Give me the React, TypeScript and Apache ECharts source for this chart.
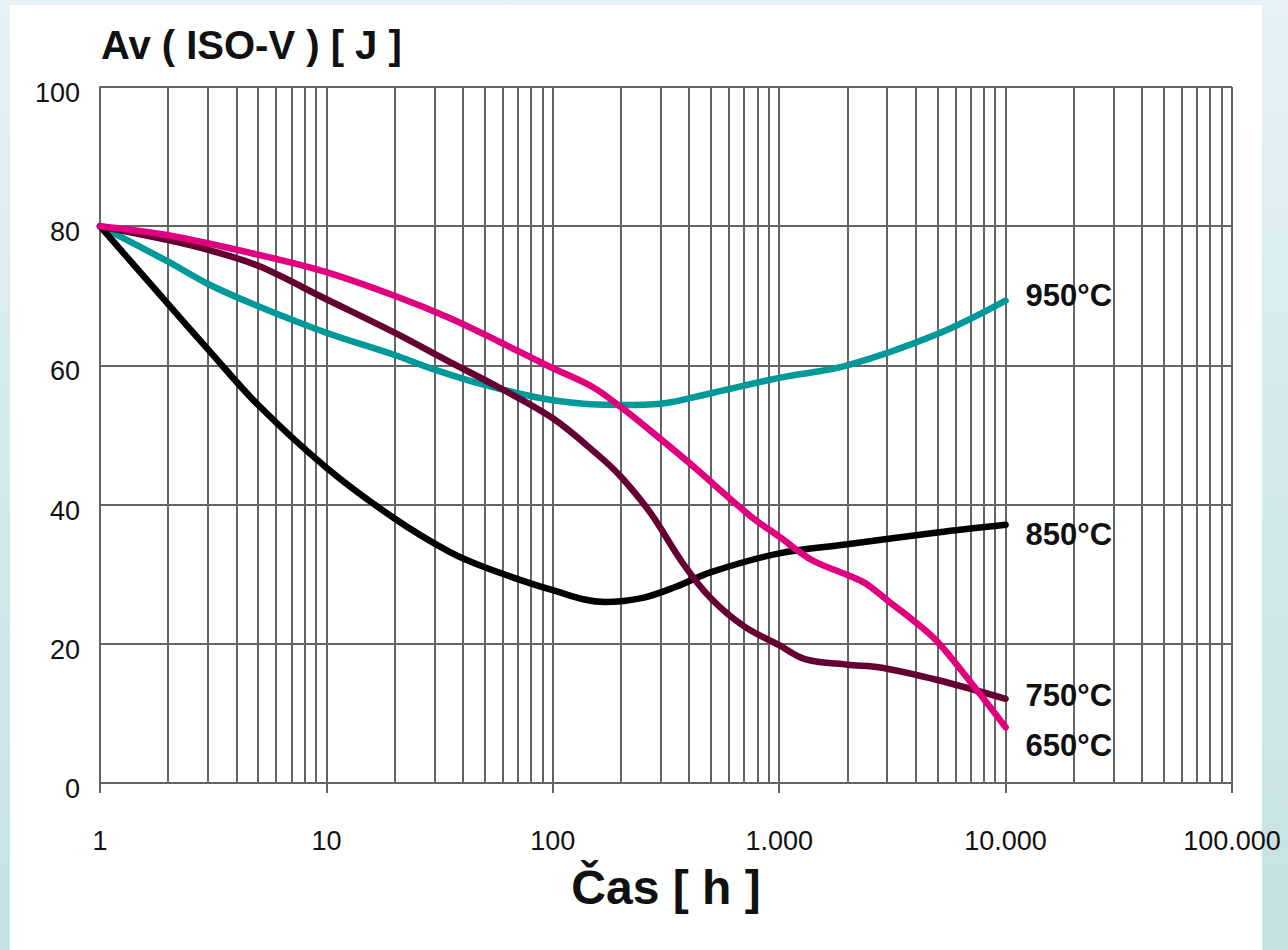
import React, { useEffect, useRef } from "react";
import * as echarts from "echarts";

const xTickLabels = ["1", "10", "100", "1.000", "10.000", "100.000"];
const minorGridX = [
  2, 3, 4, 5, 6, 7, 8, 9,
  20, 30, 40, 50, 60, 70, 80, 90,
  200, 300, 400, 500, 600, 700, 800, 900,
  2000, 3000, 4000, 5000, 6000, 7000, 8000, 9000,
  20000, 30000, 40000, 50000, 60000, 70000, 80000, 90000,
];

const t950 = [1, 2, 3, 5, 10, 20, 30, 50, 100, 200, 300, 500, 1000, 2000, 5000, 10000];
const v950 = [80, 74.9, 71.7, 68.5, 64.7, 61.5, 59.4, 57.2, 55, 54.3, 54.5, 56, 58.2, 60, 64.5, 69.3];

const t850 = [1, 2, 3, 5, 10, 20, 35, 50, 100, 170, 250, 350, 500, 1000, 2000, 5000, 10000];
const v850 = [80, 68.8, 62.3, 54.3, 45.3, 38, 33.2, 31, 27.7, 26, 26.6, 28.2, 30.3, 33, 34.3, 36, 37.1];

const t750 = [1, 2, 3, 5, 10, 20, 35, 58, 100, 160, 200, 270, 375, 500, 700, 1000, 1300, 2000, 2800, 5000, 10000];
const v750 = [80, 78, 76.6, 74.3, 69.5, 64.7, 60.5, 56.8, 52.4, 47, 44, 38.8, 31.6, 26.5, 22.5, 19.8, 17.8, 17, 16.6, 14.8, 12.1];

const t650 = [1, 2, 5, 10, 20, 35, 58, 97, 150, 198, 268, 400, 750, 1000, 1400, 2000, 2400, 3100, 3900, 5000, 7000, 10000];
const v650 = [80, 78.7, 75.9, 73.4, 70, 66.8, 63.4, 59.8, 56.9, 54.1, 50.7, 46, 38.3, 35.4, 32, 29.9, 28.7, 25.9, 23.4, 20.3, 14.5, 8];

const seriesNames = ["950°C", "850°C", "750°C", "650°C"];
const seriesColors = ["#009999", "#000000", "#660033", "#e0007f"];

const GRID = "#646464";
const FONT = "Liberation Sans, Arial, sans-serif";

function zip(t: number[], v: number[]) {
  return t.map((x, i) => [x, v[i]]);
}

function fmt(v: number) {
  const idx = Math.round(Math.log10(v));
  if (Math.abs(Math.log10(v) - idx) < 1e-6 && idx >= 0 && idx < xTickLabels.length) {
    return xTickLabels[idx];
  }
  return "";
}

export default function App() {
  const ref = useRef<HTMLDivElement>(null);
  useEffect(() => {
    if (!ref.current) return;
    const chart = echarts.init(ref.current, null, { renderer: "svg" });
    const data = [zip(t950, v950), zip(t850, v850), zip(t750, v750), zip(t650, v650)];
    const offsets = [
      [20, -5],
      [20, 10],
      [20, -3],
      [20, 18],
    ];
    chart.setOption({
      animation: false,
      textStyle: { fontFamily: FONT },
      title: {
        text: "Av ( ISO-V ) [ J ]",
        left: 101,
        top: 25,
        padding: 0,
        textStyle: { fontSize: 40, fontWeight: "bold", color: "#111", fontFamily: FONT },
      },
      grid: { left: 100, right: 56, top: 87, bottom: 167, containLabel: false },
      xAxis: {
        type: "log",
        logBase: 10,
        min: 1,
        max: 100000,
        name: "Čas [ h ]",
        nameLocation: "middle",
        nameGap: 80,
        nameTextStyle: { fontSize: 48, fontWeight: "bold", color: "#111", fontFamily: FONT },
        axisLine: { show: true, lineStyle: { color: GRID, width: 2 } },
        axisTick: { show: true, length: 10, inside: false, lineStyle: { color: GRID, width: 2 } },
        axisLabel: {
          fontSize: 27,
          color: "#111",
          margin: 44,
          formatter: (v: number) => fmt(v),
        },
        splitLine: { show: true, lineStyle: { color: GRID, width: 2 } },
        minorTick: { show: false },
        minorSplitLine: { show: false },
      },
      yAxis: {
        type: "value",
        min: 0,
        max: 100,
        interval: 20,
        axisLine: { show: true, lineStyle: { color: GRID, width: 2 } },
        axisTick: { show: false },
        axisLabel: {
          margin: 20,
          formatter: (v: number) => "{a|" + v + "}",
          rich: {
            a: { fontSize: 27, color: "#111", fontFamily: FONT, padding: [12, 0, 0, 0] },
          },
        },
        splitLine: { show: true, lineStyle: { color: GRID, width: 2 } },
      },
      series: seriesNames.map((name, i) => ({
        name,
        type: "line",
        data: data[i],
        smooth: 0.35,
        symbol: "none",
        lineStyle: { color: seriesColors[i], width: 6.5, cap: "round" },
        itemStyle: { color: seriesColors[i] },
        z: 3 + i,
        endLabel: {
          show: true,
          formatter: name,
          distance: 0,
          offset: offsets[i],
          fontSize: 31,
          fontWeight: "bold",
          color: "#111",
          fontFamily: FONT,
        },
        markLine:
          i === 0
            ? {
                silent: true,
                symbol: "none",
                z: 1,
                label: { show: false },
                lineStyle: { color: GRID, width: 2, type: "solid" },
                data: minorGridX.map((x) => ({ xAxis: x })),
              }
            : undefined,
      })),
    });
    return () => chart.dispose();
  }, []);

  return (
    <div
      style={{
        position: "absolute",
        left: 0,
        top: 0,
        width: 1288,
        height: 950,
        background: "linear-gradient(180deg, #e6f2f5 0%, #d3e9ec 50%, #c5e2e5 100%)",
        overflow: "hidden",
      }}
    >
      <div
        style={{
          position: "absolute",
          left: 10,
          top: 5,
          width: 1252,
          height: 945,
          background: "#ffffff",
        }}
      />
      <div ref={ref} style={{ position: "absolute", left: 0, top: 0, width: 1288, height: 950 }} />
    </div>
  );
}
